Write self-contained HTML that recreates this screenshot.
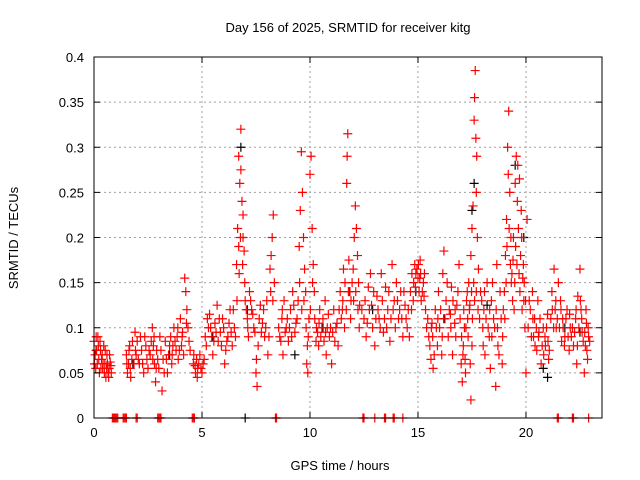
<!DOCTYPE html>
<html><head><meta charset="utf-8"><style>
body{margin:0;background:#fff}
svg{display:block;font-family:"Liberation Sans",sans-serif}
</style></head><body>
<svg id="chart" width="640" height="480">
<text x="348" y="32" text-anchor="middle" font-size="13">Day 156 of 2025, SRMTID for receiver kitg</text>
<text x="340" y="470" text-anchor="middle" font-size="13">GPS time / hours</text>
<text transform="translate(18,238) rotate(-90)" text-anchor="middle" font-size="13">SRMTID / TECUs</text>
<g id="grid"></g><g id="black"></g><g id="red"></g><g id="axes"></g>
</svg>
<script>
const xTicks=[0,5,10,15,20];
const yTicks=[0,0.05,0.1,0.15,0.2,0.25,0.3,0.35,0.4];
const yTickLabels=["0","0.05","0.1","0.15","0.2","0.25","0.3","0.35","0.4"];
const redPoints=[
[0.0,0.085],[0.05,0.07],[0.1,0.09],[0.15,0.06],[0.2,0.08],[0.25,0.05],[0.3,0.075],[0.35,0.065],[0.4,0.055],[0.45,0.08],[0.5,0.06],[0.55,0.045],[0.6,0.07],[0.65,0.05],[0.7,0.055],[0.75,0.062],[0.8,0.05],
[1.5,0.07],[1.55,0.05],[1.6,0.06],[1.65,0.08],[1.7,0.045],[1.75,0.065],[1.9,0.095],[1.95,0.07],[2.0,0.085],[2.1,0.06],[2.2,0.075],[2.3,0.05],[2.35,0.09],[2.45,0.065],
[2.6,0.07],[2.7,0.1],[2.75,0.08],[2.8,0.06],[2.85,0.04],[2.9,0.075],[3.0,0.055],[3.05,0.09],[3.15,0.03],[3.2,0.065],[3.3,0.085],[3.4,0.05],[3.45,0.07],
[3.6,0.06],[3.65,0.08],[3.7,0.1],[3.8,0.075],[3.85,0.09],[3.9,0.065],[4.0,0.11],[4.05,0.08],[4.1,0.095],[4.2,0.155],[4.25,0.14],[4.3,0.12],[4.35,0.1],[4.4,0.085],
[4.6,0.06],[4.7,0.05],[4.75,0.065],[4.8,0.055],[4.9,0.07],[5.0,0.05],[5.05,0.06],
[5.2,0.08],[5.3,0.1],[5.35,0.115],[5.45,0.09],[5.5,0.07],[5.6,0.105],[5.7,0.125],[5.75,0.085],[5.85,0.095],[5.95,0.11],[6.05,0.06],[6.1,0.075],[6.2,0.09],[6.3,0.12],[6.4,0.08],[6.5,0.1],
[6.6,0.17],[6.65,0.21],[6.7,0.29],[6.75,0.26],[6.8,0.32],[6.85,0.24],[6.9,0.2],[6.95,0.185],[6.9,0.225],[6.8,0.275],[6.7,0.19],
[7.0,0.13],[7.1,0.11],[7.15,0.09],[7.2,0.14],[7.3,0.12],[7.4,0.1],[7.5,0.05],[7.55,0.035],[7.6,0.08],[7.7,0.125],[7.8,0.105],[7.9,0.09],[8.0,0.13],[8.05,0.07],
[8.15,0.165],[8.2,0.18],[8.25,0.2],[8.3,0.225],[8.35,0.15],
[8.6,0.09],[8.7,0.11],[8.75,0.07],[8.8,0.13],[8.9,0.1],[9.0,0.085],[9.1,0.12],[9.2,0.14],[9.3,0.095],[9.4,0.11],
[9.5,0.19],[9.55,0.23],[9.6,0.295],[9.65,0.25],[9.7,0.2],[9.75,0.165],[9.8,0.14],[9.85,0.06],[9.9,0.05],[9.95,0.11],[10.0,0.27],[10.05,0.29],[10.1,0.21],[10.15,0.17],[10.2,0.14],
[10.3,0.1],[10.4,0.08],[10.45,0.12],[10.5,0.09],[10.6,0.11],[10.7,0.13],[10.75,0.07],[10.8,0.1],[10.9,0.09],[11.0,0.06],[11.1,0.12],[11.2,0.1],[11.3,0.08],
[11.4,0.14],[11.5,0.12],[11.55,0.165],[11.6,0.1],[11.7,0.26],[11.72,0.29],[11.75,0.315],[11.8,0.175],[11.85,0.14],[11.9,0.13],[12.0,0.165],[12.05,0.2],[12.1,0.235],[12.15,0.21],[12.2,0.18],[12.25,0.15],[12.3,0.125],
[12.5,0.11],[12.6,0.09],[12.7,0.145],[12.8,0.16],[12.85,0.125],[12.9,0.1],[13.0,0.08],[13.1,0.135],[13.2,0.11],[13.3,0.16],[13.4,0.095],[13.5,0.145],[13.6,0.12],[13.7,0.085],[13.8,0.17],[13.9,0.13],[14.0,0.15],[14.1,0.11],[14.2,0.14],[14.3,0.09],[14.4,0.125],
[14.5,0.1],[14.6,0.09],[14.7,0.12],[14.8,0.15],[14.85,0.17],[14.9,0.16],[15.0,0.155],[15.05,0.14],[15.1,0.175],[15.15,0.13],[15.25,0.15],[15.3,0.16],
[15.5,0.09],[15.6,0.065],[15.65,0.105],[15.7,0.055],[15.8,0.12],[15.9,0.08],[15.95,0.14],[16.0,0.1],[16.1,0.07],[16.15,0.16],[16.2,0.185],[16.3,0.13],[16.4,0.09],[16.5,0.115],[16.55,0.145],[16.6,0.07],[16.7,0.105],[16.8,0.125],[16.9,0.17],
[17.0,0.06],[17.05,0.04],[17.1,0.08],[17.15,0.1],[17.2,0.05],[17.25,0.13],[17.3,0.11],[17.35,0.15],[17.4,0.125],[17.45,0.02],[17.5,0.08],
[17.45,0.18],[17.5,0.21],[17.55,0.235],[17.6,0.33],[17.62,0.355],[17.65,0.385],[17.68,0.31],[17.7,0.25],[17.72,0.29],[17.75,0.2],[17.8,0.165],
[17.9,0.14],[18.0,0.1],[18.05,0.12],[18.1,0.07],[18.2,0.15],[18.3,0.09],[18.35,0.055],[18.4,0.13],[18.5,0.11],[18.6,0.035],[18.65,0.17],[18.7,0.08],[18.8,0.14],[18.9,0.06],[18.95,0.12],
[19.0,0.14],[19.05,0.18],[19.1,0.22],[19.15,0.3],[19.2,0.34],[19.25,0.25],[19.3,0.2],[19.35,0.16],[19.4,0.175],[19.45,0.12],
[19.5,0.26],[19.55,0.29],[19.6,0.24],[19.65,0.21],[19.7,0.265],[19.75,0.18],[19.8,0.2],[19.85,0.155],[19.9,0.13],[19.95,0.1],[20.0,0.05],[20.05,0.22],
[20.2,0.12],[20.3,0.14],[20.35,0.09],[20.4,0.11],[20.5,0.075],[20.55,0.13],[20.6,0.095],[20.7,0.06],[20.8,0.1],[20.9,0.08],[21.0,0.115],[21.05,0.065],
[21.2,0.14],[21.3,0.165],[21.35,0.12],[21.4,0.1],[21.5,0.15],[21.6,0.13],[21.65,0.085],[21.7,0.11],[21.8,0.09],[21.9,0.12],[22.0,0.075],[22.05,0.1],
[22.2,0.08],[22.3,0.11],[22.35,0.06],[22.4,0.135],[22.5,0.165],[22.55,0.12],[22.6,0.095],[22.7,0.05],[22.75,0.08],[22.8,0.105],[22.85,0.065],[22.9,0.09],
[0.85,0],[0.9,0],[0.95,0],[1.0,0],[1.05,0],[1.1,0],[1.35,0],[1.4,0],[1.45,0],[1.5,0],[1.95,0],[2.0,0],[2.95,0],[3.0,0],[3.05,0],[3.1,0],[4.55,0],[4.6,0],[4.65,0],[8.4,0],[8.45,0],[12.45,0],[12.5,0],[13.0,0],[13.45,0],[13.5,0],[13.85,0],[13.9,0],[14.3,0],[21.45,0],[21.5,0],[22.15,0],[22.2,0],[22.9,0]
];
const redPoints2=[
[0.02,0.06],[0.08,0.055],[0.12,0.075],[0.18,0.09],[0.22,0.065],[0.28,0.085],[0.32,0.055],[0.38,0.07],[0.42,0.06],[0.48,0.05],[0.52,0.075],[0.58,0.055],[0.62,0.06],[0.68,0.045],[0.72,0.07],[0.78,0.058],
[1.52,0.06],[1.62,0.075],[1.68,0.055],[1.78,0.085],[1.85,0.06],[1.92,0.075],[2.05,0.065],[2.15,0.09],[2.25,0.06],[2.4,0.08],[2.5,0.055],[2.55,0.075],
[2.65,0.085],[2.72,0.065],[2.78,0.09],[2.88,0.055],[2.95,0.065],[3.1,0.075],[3.25,0.05],[3.35,0.065],[3.5,0.08],[3.55,0.09],[3.62,0.07],[3.75,0.085],[3.88,0.1],[3.95,0.075],[4.08,0.09],[4.15,0.07],[4.28,0.105],[4.45,0.075],
[4.62,0.07],[4.68,0.058],[4.78,0.045],[4.85,0.06],[4.95,0.055],[5.1,0.065],[5.15,0.09],[5.25,0.11],[5.4,0.1],[5.55,0.085],[5.65,0.095],[5.8,0.11],[5.9,0.08],[6.0,0.1],[6.15,0.085],[6.25,0.105],[6.35,0.095],[6.45,0.12],[6.55,0.09],
[6.62,0.13],[6.72,0.16],[6.78,0.2],[6.88,0.17],[6.98,0.15],[7.05,0.12],[7.12,0.1],[7.25,0.13],[7.35,0.115],[7.45,0.095],[7.52,0.065],[7.65,0.11],[7.75,0.095],[7.85,0.12],[7.95,0.1],[8.1,0.09],[8.18,0.14],[8.28,0.13],
[8.55,0.1],[8.65,0.085],[8.72,0.12],[8.85,0.095],[8.95,0.11],[9.05,0.1],[9.15,0.09],[9.25,0.125],[9.35,0.105],[9.45,0.13],[9.52,0.15],[9.62,0.12],[9.72,0.13],[9.82,0.1],[9.88,0.08],[9.92,0.09],[10.02,0.12],[10.12,0.15],[10.22,0.11],
[10.28,0.085],[10.35,0.095],[10.42,0.105],[10.55,0.1],[10.65,0.085],[10.72,0.095],[10.85,0.115],[10.95,0.1],[11.05,0.095],[11.15,0.085],[11.25,0.105],[11.35,0.12],[11.45,0.11],[11.52,0.13],[11.62,0.15],[11.68,0.12],[11.78,0.14],[11.88,0.11],[11.95,0.15],[12.02,0.13],[12.12,0.14],[12.22,0.12],[12.28,0.1],
[12.4,0.12],[12.55,0.13],[12.65,0.105],[12.75,0.12],[12.95,0.14],[13.05,0.11],[13.15,0.12],[13.25,0.1],[13.35,0.13],[13.45,0.11],[13.55,0.1],[13.65,0.14],[13.75,0.11],[13.85,0.12],[13.95,0.1],[14.05,0.13],[14.15,0.12],[14.25,0.11],[14.35,0.14],[14.45,0.11],
[14.55,0.12],[14.65,0.14],[14.72,0.16],[14.78,0.13],[14.88,0.145],[14.95,0.165],[15.02,0.17],[15.08,0.155],[15.12,0.16],[15.2,0.14],[15.28,0.135],[15.35,0.12],[15.4,0.1],[15.45,0.11],
[15.55,0.08],[15.62,0.1],[15.68,0.09],[15.75,0.07],[15.85,0.1],[15.92,0.11],[16.05,0.12],[16.12,0.09],[16.25,0.11],[16.35,0.15],[16.45,0.12],[16.52,0.1],[16.62,0.13],[16.72,0.12],[16.75,0.09],[16.85,0.14],[16.95,0.11],
[17.02,0.09],[17.08,0.07],[17.12,0.12],[17.18,0.065],[17.22,0.1],[17.28,0.14],[17.32,0.09],[17.38,0.12],[17.42,0.06],[17.48,0.14],[17.52,0.11],[17.58,0.15],[17.62,0.13],[17.7,0.14],[17.78,0.12],
[17.85,0.11],[17.95,0.13],[18.02,0.08],[18.08,0.14],[18.15,0.11],[18.25,0.1],[18.32,0.12],[18.42,0.09],[18.45,0.15],[18.55,0.1],[18.62,0.12],[18.68,0.1],[18.75,0.07],[18.85,0.11],[18.92,0.09],
[19.02,0.11],[19.08,0.15],[19.12,0.19],[19.18,0.27],[19.22,0.21],[19.28,0.17],[19.32,0.15],[19.38,0.13],[19.42,0.2],[19.48,0.15],[19.52,0.19],[19.58,0.17],[19.62,0.28],[19.68,0.16],[19.72,0.14],[19.78,0.23],[19.82,0.12],[19.88,0.17],[19.92,0.15],[19.98,0.13],
[20.1,0.1],[20.15,0.13],[20.25,0.09],[20.32,0.11],[20.42,0.08],[20.48,0.1],[20.58,0.09],[20.65,0.11],[20.75,0.08],[20.82,0.07],[20.88,0.09],[20.95,0.1],[21.02,0.085],[21.08,0.075],
[21.15,0.11],[21.22,0.12],[21.28,0.1],[21.38,0.13],[21.45,0.11],[21.55,0.1],[21.62,0.12],[21.72,0.1],[21.78,0.08],[21.85,0.11],[21.95,0.09],[22.02,0.115],[22.1,0.09],
[22.15,0.1],[22.25,0.095],[22.32,0.12],[22.38,0.08],[22.45,0.1],[22.52,0.13],[22.58,0.11],[22.65,0.085],[22.72,0.095],[22.78,0.12],[22.82,0.075],[22.88,0.1],[22.95,0.085]
];
const blackPoints=[
[0.1,0.075],[1.8,0.06],[3.5,0.07],[5.5,0.09],[6.8,0.3],[7.1,0.12],[7.0,0],[9.3,0.07],[10.6,0.1],[11.8,0.14],[12.9,0.12],[14.9,0.14],
[16.2,0.11],[17.5,0.23],[17.6,0.26],[18.2,0.125],[19.5,0.28],[19.9,0.2],[20.8,0.055],[21.0,0.045],[21.8,0.1],[22.5,0.095]
];
const X0=94,X1=602,Y0=418,Y1=57;
const xs=t=>X0+t*(X1-X0)/23.52;
const ys=v=>Y0-v*(Y0-Y1)/0.4;
const NS="http://www.w3.org/2000/svg";
function mk(tag,attrs,parent){const e=document.createElementNS(NS,tag);for(const k in attrs)e.setAttribute(k,attrs[k]);parent.appendChild(e);return e;}
const grid=document.getElementById('grid'),axes=document.getElementById('axes');
xTicks.forEach((t,i)=>{
  const x=xs(t);
  if(t>0){const g=mk('line',{x1:x,x2:x,y1:Y0,y2:Y1,stroke:'#a0a0a0','stroke-dasharray':'2,3'},grid);
  
  }
  const l=mk('line',{x1:x,x2:x,y1:Y0,y2:Y0-6,stroke:'#000'},axes);
  
  
  mk('line',{x1:x,x2:x,y1:Y1,y2:Y1+6,stroke:'#000'},axes);
  const tx=mk('text',{x:x,y:Y0+19,'text-anchor':'middle','font-size':'13'},axes);tx.textContent=String(t);
  
  
});
yTicks.forEach((v,i)=>{
  const y=ys(v);
  if(v>0&&v<0.4){const g=mk('line',{x1:X0,x2:X1,y1:y,y2:y,stroke:'#a0a0a0','stroke-dasharray':'2,3'},grid);
  
  }
  const l=mk('line',{x1:X0,x2:X0+6,y1:y,y2:y,stroke:'#000'},axes);
  
  
  mk('line',{x1:X1,x2:X1-6,y1:y,y2:y,stroke:'#000'},axes);
  const tx=mk('text',{x:X0-10,y:y+5,'text-anchor':'end','font-size':'13'},axes);tx.textContent=yTickLabels[i];
  
  
});
const frame=mk('rect',{x:X0,y:Y1,width:X1-X0,height:Y0-Y1,fill:'none',stroke:'#000'},axes);


function plus(g,p,color,name){
  const x=xs(p[0]),y=ys(p[1]);
  const e=mk('path',{d:`M${x-4.5},${y}h9M${x},${y-4.5}v9`,stroke:color,'stroke-width':1.2,fill:'none'},g);
  
  
}
const bg=document.getElementById('black'),rg=document.getElementById('red');
blackPoints.forEach(p=>plus(bg,p,'#000','black-point'));
redPoints.forEach(p=>plus(rg,p,'#ff0000','red-point'));
redPoints2.forEach(p=>plus(rg,p,'#ff0000','red-point'));
</script>
</body></html>
